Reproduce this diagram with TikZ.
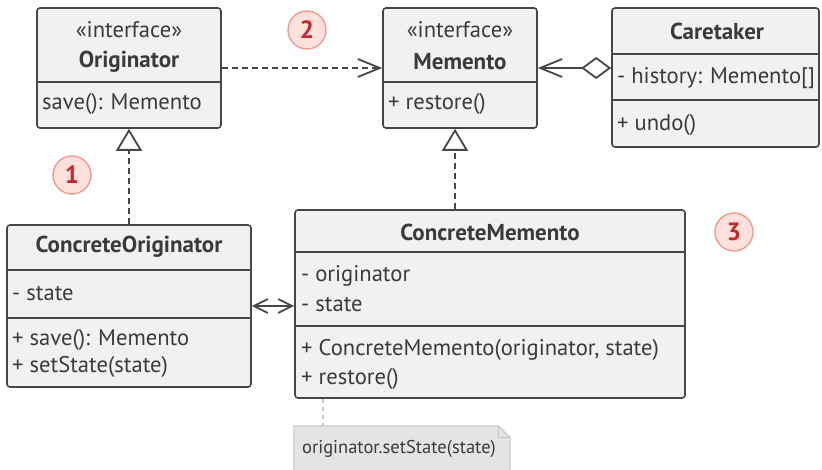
\documentclass[tikz,border=0pt]{standalone}
\usepackage{fontspec}
\setmainfont{PT Sans}
\usetikzlibrary{arrows.meta,calc}

\definecolor{boxfill}{HTML}{F1F1F1}
\definecolor{boxdraw}{HTML}{474747}
\definecolor{ink}{HTML}{3A3A3A}
\definecolor{markfill}{HTML}{FDE1DC}
\definecolor{markdraw}{HTML}{F29A90}
\definecolor{markink}{HTML}{C9252C}
\definecolor{notefill}{HTML}{E4E4E4}
\definecolor{notedraw}{HTML}{C4C4C4}

\tikzset{
    classbox/.style={draw=boxdraw,fill=boxfill,line width=1.6pt,rounded corners=3pt,inner sep=0pt},
    divider/.style={draw=boxdraw,line width=1.6pt},
    member/.style={anchor=west,inner sep=0pt,text=ink,font=\fontsize{22.6}{26}\selectfont},
    title/.style={inner sep=0pt,text=ink,font=\fontsize{23}{26}\selectfont\bfseries},
    stereo/.style={inner sep=0pt,text=ink,font=\fontsize{22.6}{26}\selectfont},
    stepmark/.style={circle,draw=markdraw,fill=markfill,line width=1.4pt,minimum size=38pt,inner sep=0pt,
        text=markink,font=\fontsize{25}{28}\selectfont\bfseries},
    link/.style={draw=boxdraw,line width=1.8pt},
    realize/.style={link,dashed,dash pattern=on 6pt off 4pt,-{Triangle[open,length=22pt,width=26pt,fill=white]}},
    depend/.style={link,dashed,dash pattern=on 6pt off 4pt,-{Straight Barb[length=22pt,width=18pt]}}
}

\begin{document}
\begin{tikzpicture}[x=1pt,y=-1pt]
\useasboundingbox (0,0) rectangle (822,470);

% Originator
\node[classbox,minimum width=184pt,minimum height=120pt] (orig) at (129,68) {};
\draw[divider] (orig.west |- 0,82) -- (orig.east |- 0,82);
\node[stereo] at (129,30) {«interface»};
\node[title] (origT) at (129,62) {Originator};
\node[member] at (42,104) {save(): Memento};

% Memento
\node[classbox,minimum width=154pt,minimum height=120pt] (mem) at (460,68) {};
\draw[divider] (mem.west |- 0,82) -- (mem.east |- 0,82);
\node[stereo] at (460,30) {«interface»};
\node[title] at (460,62) {Memento};
\node[member] at (388,104) {+ restore()};

% Caretaker
\node[classbox,minimum width=207pt,minimum height=139pt] (care) at (715.5,77.5) {};
\draw[divider] (care.west |- 0,54) -- (care.east |- 0,54);
\draw[divider] (care.west |- 0,100) -- (care.east |- 0,100);
\node[title] at (717,31) {Caretaker};
\node[member] at (617,78) {- history: Memento[]};
\node[member] at (617,125) {+ undo()};

% ConcreteOriginator
\node[classbox,minimum width=244pt,minimum height=162pt] (corig) at (129,306) {};
\draw[divider] (corig.west |- 0,270) -- (corig.east |- 0,270);
\draw[divider] (corig.west |- 0,318) -- (corig.east |- 0,318);
\node[title] at (129,247) {ConcreteOriginator};
\node[member] at (12,294) {- state};
\node[member] at (12,340) {+ save(): Memento};
\node[member] at (12,367) {+ setState(state)};

% ConcreteMemento
\node[classbox,minimum width=390pt,minimum height=188pt] (cmem) at (490,304) {};
\draw[divider] (cmem.west |- 0,252) -- (cmem.east |- 0,252);
\draw[divider] (cmem.west |- 0,326) -- (cmem.east |- 0,326);
\node[title] at (490,232) {ConcreteMemento};
\node[member] at (301,276) {- originator};
\node[member] at (301,305) {- state};
\node[member] at (301,350) {+ ConcreteMemento(originator, state)};
\node[member] at (301,379) {+ restore()};

% Note
\node[inner sep=0pt,minimum width=216pt,minimum height=46pt] (note) at (402,449) {};
\draw[draw=notedraw,fill=notefill,line width=1pt]
    (note.south west) -- (note.north west) -- ($(note.north east)+(-12,0)$)
    -- ($(note.north east)+(0,12)$) -- (note.south east) -- cycle;
\draw[draw=notedraw,line width=1pt] ($(note.north east)+(-12,0)$) -- ($(note.north east)+(-12,12)$) -- ($(note.north east)+(0,12)$);
\node[inner sep=0pt,text=ink,font=\fontsize{18.5}{21}\selectfont] at (399,449) {originator.setState(state)};
\draw[draw=notedraw,line width=1.2pt,dashed,dash pattern=on 4pt off 4pt] (cmem.south -| 323,0) -- (note.north -| 323,0);

% Connectors
\draw[depend] (orig.east |- 0,68) -- (mem.west |- 0,68);
\draw[link,{Diamond[open,length=30pt,width=22pt]}-{Straight Barb[length=22pt,width=18pt]}] (care.west |- 0,68) -- (mem.east |- 0,68);
\draw[realize] (corig.north -| 129,0) -- (orig.south -| 129,0);
\draw[realize] (cmem.north -| 455,0) -- (mem.south -| 455,0);
\draw[link,{Straight Barb[length=14pt,width=14pt]}-{Straight Barb[length=14pt,width=14pt]}] (corig.east |- 0,306) -- (cmem.west |- 0,306);

% Steps
\node[stepmark] (m1) at (72,175) {1};
\node[stepmark] (m2) at (307,30) {2};
\node[stepmark] (m3) at (734,232) {3};

\end{tikzpicture}
\end{document}
